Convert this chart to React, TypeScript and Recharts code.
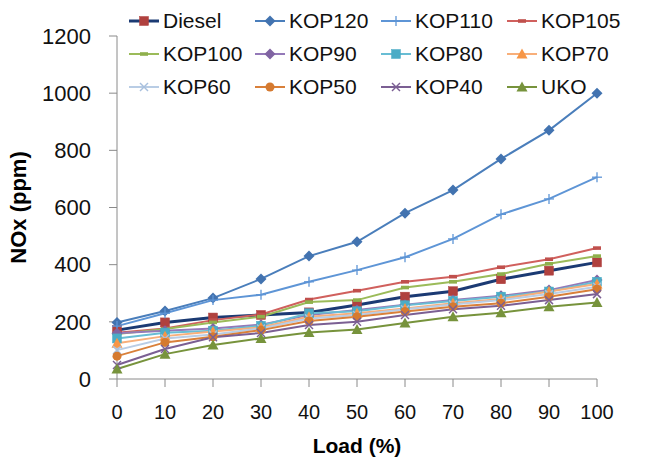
import React from "react"
import { Legend, Line, LineChart, XAxis, YAxis } from "recharts"

const loads = [0, 10, 20, 30, 40, 50, 60, 70, 80, 90, 100]
const diesel = [171, 198, 215, 224, 233, 259, 288, 307, 349, 379, 408]
const kop120 = [198, 238, 283, 350, 430, 480, 580, 661, 770, 870, 1000]
const kop110 = [185, 230, 276, 295, 340, 381, 426, 490, 576, 630, 706]
const kop105 = [162, 177, 206, 226, 278, 309, 340, 358, 391, 419, 458]
const kop100 = [157, 175, 198, 218, 269, 276, 320, 340, 367, 403, 430]
const kop90 = [160, 169, 177, 190, 224, 241, 260, 276, 291, 311, 346]
const kop80 = [142, 162, 169, 186, 230, 237, 258, 273, 288, 306, 340]
const kop70 = [125, 150, 166, 181, 218, 230, 247, 265, 280, 306, 332]
const kop60 = [101, 142, 156, 177, 212, 224, 244, 261, 276, 297, 323]
const kop50 = [80, 128, 148, 171, 203, 218, 236, 253, 265, 288, 314]
const kop40 = [49, 105, 146, 161, 189, 200, 224, 244, 256, 276, 297]
const uko = [35, 87, 119, 142, 163, 173, 196, 218, 232, 253, 268]

const yTicks = [0, 200, 400, 600, 800, 1000, 1200]

type Shape = "square" | "diamond" | "plus" | "dash" | "triangle" | "x" | "circle"

const series: Array<{ name: string; values: number[]; stroke: string; mark: string; shape: Shape; width: number }> = [
  { name: "Diesel", values: diesel, stroke: "#1B3A73", mark: "#B0413E", shape: "square", width: 3 },
  { name: "KOP120", values: kop120, stroke: "#4A7EBB", mark: "#4273B0", shape: "diamond", width: 2 },
  { name: "KOP110", values: kop110, stroke: "#5E95D6", mark: "#5E95D6", shape: "plus", width: 2 },
  { name: "KOP105", values: kop105, stroke: "#D0605D", mark: "#C0504D", shape: "dash", width: 2 },
  { name: "KOP100", values: kop100, stroke: "#9BBB59", mark: "#8FB04C", shape: "dash", width: 2 },
  { name: "KOP90", values: kop90, stroke: "#9479B8", mark: "#8064A2", shape: "diamond", width: 2 },
  { name: "KOP80", values: kop80, stroke: "#68BDD4", mark: "#4BACC6", shape: "square", width: 2 },
  { name: "KOP70", values: kop70, stroke: "#F8AF7A", mark: "#F79646", shape: "triangle", width: 2 },
  { name: "KOP60", values: kop60, stroke: "#B9CDE5", mark: "#A8C0DE", shape: "x", width: 2 },
  { name: "KOP50", values: kop50, stroke: "#D9803A", mark: "#D57A30", shape: "circle", width: 2 },
  { name: "KOP40", values: kop40, stroke: "#7B5F93", mark: "#7B5F93", shape: "x", width: 2 },
  { name: "UKO", values: uko, stroke: "#77933C", mark: "#77933C", shape: "triangle", width: 2 },
]

const rows = loads.map((load, i) => {
  const row: Record<string, number> = { load }
  series.forEach((s) => (row[s.name] = s.values[i]))
  return row
})

function Marker({ cx, cy, shape, color }: { cx: number; cy: number; shape: Shape; color: string }) {
  if (cx == null || cy == null) return null
  switch (shape) {
    case "square":
      return <rect x={cx - 4.5} y={cy - 4.5} width={9} height={9} fill={color} stroke={color} strokeWidth={0.5} />
    case "diamond":
      return <polygon points={`${cx},${cy - 5.5} ${cx + 5.5},${cy} ${cx},${cy + 5.5} ${cx - 5.5},${cy}`} fill={color} />
    case "plus":
      return (
        <g stroke={color} strokeWidth={1.3}>
          <line x1={cx - 5} y1={cy} x2={cx + 5} y2={cy} />
          <line x1={cx} y1={cy - 5} x2={cx} y2={cy + 5} />
        </g>
      )
    case "dash":
      return <rect x={cx - 4} y={cy - 1.8} width={8} height={3.6} fill={color} />
    case "triangle":
      return <polygon points={`${cx},${cy - 5.5} ${cx + 5.5},${cy + 4.5} ${cx - 5.5},${cy + 4.5}`} fill={color} />
    case "x":
      return (
        <g stroke={color} strokeWidth={1.5}>
          <line x1={cx - 4} y1={cy - 4} x2={cx + 4} y2={cy + 4} />
          <line x1={cx - 4} y1={cy + 4} x2={cx + 4} y2={cy - 4} />
        </g>
      )
    case "circle":
      return <circle cx={cx} cy={cy} r={4.5} fill={color} />
  }
  return null
}

function LegendBox() {
  return (
    <div style={{ display: "grid", gridTemplateColumns: "repeat(4, 126px)", gridAutoRows: "33px" }}>
      {series.map((s) => (
        <div key={s.name} style={{ display: "flex", alignItems: "center" }}>
          <svg width={30} height={14}>
            <line x1={0} y1={7} x2={30} y2={7} stroke={s.stroke} strokeWidth={s.width} />
            <Marker cx={15} cy={7} shape={s.shape} color={s.mark} />
          </svg>
          <span style={{ marginLeft: 4, fontSize: 21, color: "#111", lineHeight: "21px" }}>{s.name}</span>
        </div>
      ))}
    </div>
  )
}

export default function App() {
  return (
    <div style={{ position: "absolute", left: 0, top: 0, width: 646, height: 457, background: "#fff", fontFamily: "'Liberation Sans', Arial, sans-serif" }}>
      <LineChart width={646} height={457} data={rows} margin={{ top: 36, right: 49, bottom: 0, left: 0 }}>
        <XAxis
          dataKey="load"
          type="number"
          domain={[0, 100]}
          ticks={loads}
          height={78}
          tickSize={8}
          stroke="#8A8A8A"
          tick={{ fill: "#111", fontSize: 20 }}
          tickMargin={18}
          label={{ value: "Load (%)", position: "insideBottom", offset: 4, fill: "#000", fontSize: 21, fontWeight: "bold" }}
        />
        <YAxis
          type="number"
          domain={[0, 1200]}
          ticks={yTicks}
          width={117}
          tickSize={8}
          stroke="#8A8A8A"
          tick={{ fill: "#111", fontSize: 22 }}
          tickMargin={18}
          label={{ value: "NOx (ppm)", angle: -90, position: "insideLeft", offset: 18, fill: "#000", fontSize: 22, fontWeight: "bold", style: { textAnchor: "middle" } }}
        />
        <Legend
          layout="horizontal"
          verticalAlign="middle"
          align="center"
          wrapperStyle={{ top: 4, left: 129, width: 515 }}
          content={() => <LegendBox />}
        />
        {series.map((s) => (
          <Line
            key={s.name}
            dataKey={s.name}
            stroke={s.stroke}
            strokeWidth={s.width}
            isAnimationActive={false}
            dot={(p: any) => <Marker key={`${s.name}-${p.index}`} cx={p.cx} cy={p.cy} shape={s.shape} color={s.mark} />}
            activeDot={false}
          />
        ))}
      </LineChart>
    </div>
  )
}
